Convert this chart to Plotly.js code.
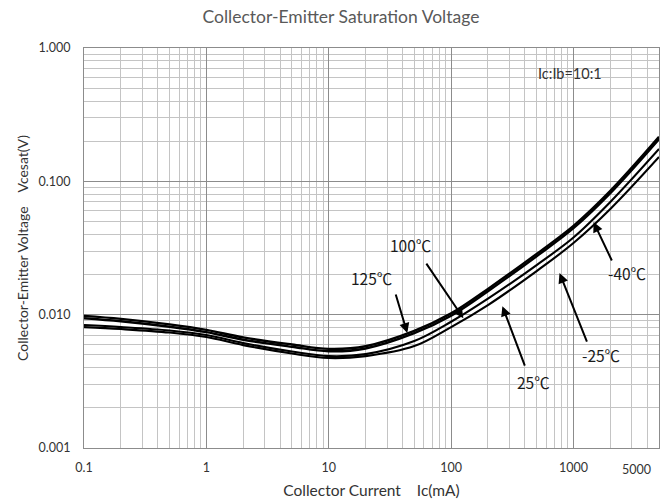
<!DOCTYPE html>
<html>
<head>
<meta charset="utf-8">
<script src="https://cdn.plot.ly/plotly-3.0.1.min.js"></script>
<style>html,body{margin:0;padding:0;background:#fff;}#chart{width:662px;height:504px;}</style>
</head>
<body>
<div id="chart"></div>
<script>
// Collector current (mA)
const ic = [0.1, 0.2, 0.5, 1, 2, 5, 10, 20, 50, 100, 200, 500, 1000, 2000, 5000];
// Vce(sat) in V
const vce125 = [0.00980, 0.00930, 0.00845, 0.00769, 0.00675, 0.00598, 0.00554, 0.00580, 0.00755, 0.01022, 0.01560, 0.02856, 0.04633, 0.0848, 0.2155];
const vce100 = [0.00941, 0.00893, 0.00812, 0.00739, 0.00649, 0.00575, 0.00532, 0.00558, 0.00726, 0.00982, 0.01499, 0.02745, 0.04453, 0.0815, 0.2072];
const vce25  = [0.00836, 0.00807, 0.00760, 0.00703, 0.00612, 0.00529, 0.00489, 0.00506, 0.00634, 0.00885, 0.01318, 0.02356, 0.03788, 0.06995, 0.1747];
const vceM40 = [0.00807, 0.00780, 0.00734, 0.00679, 0.00591, 0.00511, 0.00473, 0.00489, 0.00581, 0.00807, 0.01180, 0.02124, 0.03445, 0.06198, 0.1522];

const seriesNames = ['125℃', '100℃', '25℃', '-40℃'];
const seriesData = [vce125, vce100, vce25, vceM40];
const seriesWidths = [2.4, 2.4, 2.1, 2.1];

const xTickVals = [0.1, 1, 10, 100, 1000];
const xTickText = ['0.1', '1', '10', '100', '1000'];
const yTickVals = [0.001, 0.01, 0.1, 1];
const yTickText = ['0.001', '0.010', '0.100', '1.000'];

// temperature labels: [text, label x(log), label y(log), tip x(log), tip y(log), ax, ay]
const tempLabels = [
  ['125℃', 1.348, -1.725, 1.642, -2.138, -12, -40],
  ['100℃', 1.667, -1.478, 2.100, -2.026, -38, -56],
  ['25℃', 2.673, -2.506, 2.419, -1.936, 23, 61],
  ['-25℃', 3.221, -2.303, 2.886, -1.688, 28, 70],
  ['-40℃', 3.434, -1.688, 3.164, -1.305, 19, 40]
];

const FONT = 'Lato, "Open Sans", sans-serif';

const traces = seriesData.map((v, i) => ({
  x: ic, y: v, name: seriesNames[i], type: 'scatter', mode: 'lines',
  line: {color: '#000000', width: seriesWidths[i], shape: 'spline', smoothing: 1},
  hoverinfo: 'skip'
}));

const annotations = [];
tempLabels.forEach(t => {
  annotations.push({
    x: t[1], y: t[2], xref: 'x', yref: 'y', text: t[0], showarrow: false,
    font: {family: '"Noto Sans CJK SC", ' + FONT, size: 15.5, color: '#1a1a1a'}
  });
  annotations.push({
    x: t[3], y: t[4], xref: 'x', yref: 'y', text: '', showarrow: true,
    ax: t[5], ay: t[6], arrowhead: 2, arrowsize: 1, arrowwidth: 2, arrowcolor: '#000000', standoff: 0
  });
});
annotations.push({
  x: 2.975, y: -0.19, xref: 'x', yref: 'y', text: 'Ic:Ib=10:1', showarrow: false,
  font: {family: FONT, size: 14.5, color: '#333333'}
});
annotations.push({
  x: 1, y: 0, xref: 'paper', yref: 'paper', xanchor: 'right', yanchor: 'top',
  xshift: -6, yshift: -12, text: '5000', showarrow: false,
  font: {family: FONT, size: 12.5, color: '#333333'}
});

const layout = {
  width: 662, height: 504,
  margin: {l: 84, r: 3, t: 48, b: 56, pad: 0},
  paper_bgcolor: '#ffffff', plot_bgcolor: '#ffffff',
  showlegend: false,
  font: {family: FONT, color: '#333333'},
  title: {text: 'Collector-Emitter Saturation Voltage', x: 0.515, xanchor: 'center', y: 0.966, yanchor: 'middle',
          font: {family: FONT, size: 17.5, color: '#595959'}},
  xaxis: {
    type: 'log', range: [-1, Math.log10(5000)],
    tickmode: 'array', tickvals: xTickVals, ticktext: xTickText,
    showgrid: true, gridcolor: '#8c8c8c', gridwidth: 1,
    minor: {dtick: 'D1', showgrid: true, gridcolor: '#c4c4c4', gridwidth: 1, ticklen: 0},
    showline: true, linecolor: '#8c8c8c', linewidth: 1, mirror: true,
    ticks: '', ticklabelstandoff: 8, zeroline: false,
    tickfont: {family: FONT, size: 12.5, color: '#333333'},
    title: {text: 'Collector Current &nbsp;&nbsp; Ic(mA)', standoff: 11, font: {family: FONT, size: 15.5, color: '#333333'}}
  },
  yaxis: {
    type: 'log', range: [-3, 0],
    tickmode: 'array', tickvals: yTickVals, ticktext: yTickText,
    showgrid: true, gridcolor: '#8c8c8c', gridwidth: 1,
    minor: {dtick: 'D1', showgrid: true, gridcolor: '#c4c4c4', gridwidth: 1, ticklen: 0},
    showline: true, linecolor: '#8c8c8c', linewidth: 1, mirror: true,
    ticks: '', ticklabelstandoff: 10, zeroline: false,
    tickfont: {family: FONT, size: 12.5, color: '#333333'},
    title: {text: 'Collector-Emitter Voltage &nbsp;&nbsp; Vcesat(V)', standoff: 6, font: {family: FONT, size: 14, color: '#333333'}}
  },
  annotations: annotations
};

Plotly.newPlot('chart', traces, layout, {displayModeBar: false, staticPlot: true});
</script>
</body>
</html>
